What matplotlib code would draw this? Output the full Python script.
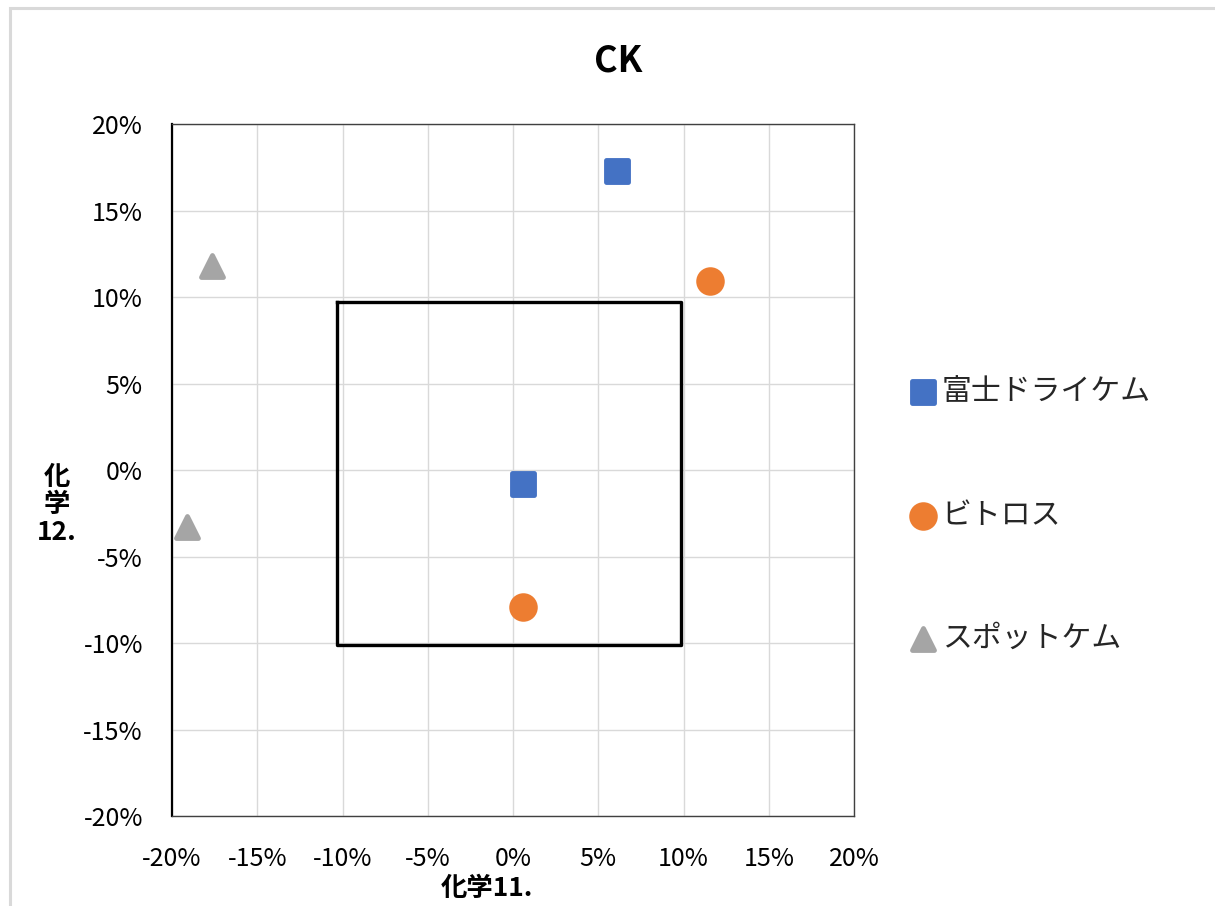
import matplotlib
matplotlib.use("Agg")
import matplotlib.pyplot as plt
from matplotlib.markers import MarkerStyle
from matplotlib.patches import Rectangle
from matplotlib.ticker import PercentFormatter, MultipleLocator

plt.rcParams['font.family'] = ['Noto Sans CJK JP', 'DejaVu Sans']
plt.rcParams['axes.unicode_minus'] = False

# data (percent)
series_names = ["富士ドライケム", "ビトロス", "スポットケム"]
fuji_x = [6.1, 0.6]
fuji_y = [17.3, -0.8]
vitros_x = [11.55, 0.6]
vitros_y = [10.9, -7.9]
spot_x = [-17.65, -19.1]
spot_y = [11.8, -3.3]

# target box
box_x = [-10.3, 9.85, 9.85, -10.3, -10.3]
box_y = [9.7, 9.7, -10.1, -10.1, 9.7]

colors = ['#4472C4', '#ED7D31', '#A5A5A5']

fig = plt.figure(figsize=(12.15, 9.06), dpi=100)
ax = fig.add_axes([0.1416, 0.0993, 0.5613, 0.7638])

# light grey chart border
fig.patches.append(Rectangle((10 / 1215, -0.1), 1.2, 1 - 8 / 906 + 0.1,
                             transform=fig.transFigure, fill=False,
                             edgecolor='#d9d9d9', linewidth=2.2))

ax.plot(box_x, box_y, color='black', linewidth=2.4, zorder=2)

sets = [(fuji_x, fuji_y, 's', 235), (vitros_x, vitros_y, 'o', 290), (spot_x, spot_y, '^', 250)]
for (xs, ys, m, sz), name, c in zip(sets, series_names, colors):
    ax.scatter(xs, ys, marker=MarkerStyle(m, joinstyle='round'), s=sz, color=c,
               edgecolors=c, linewidths=3.5, label=name, zorder=3)

ax.set_xlim(-20, 20)
ax.set_ylim(-20, 20)
ax.xaxis.set_major_locator(MultipleLocator(5))
ax.yaxis.set_major_locator(MultipleLocator(5))
ax.xaxis.set_major_formatter(PercentFormatter(100, decimals=0))
ax.yaxis.set_major_formatter(PercentFormatter(100, decimals=0))
ax.grid(True, color='#d9d9d9', linewidth=1)
ax.set_axisbelow(True)
ax.tick_params(length=0, labelsize=18, colors='black')
ax.tick_params(axis='y', pad=21)
ax.tick_params(axis='x', pad=21.5)
for s in ax.spines.values():
    s.set_color('#404040')
    s.set_linewidth(1)
ax.spines['left'].set_color('black')
ax.spines['left'].set_linewidth(1.6)

fig.text(0.509, 1 - 61 / 906, "CK", ha='center', va='center', fontsize=26, fontweight='bold')
fig.text(487 / 1215, 1 - 888 / 906, "化学11.", ha='center', va='center', fontsize=19, fontweight='bold')
fig.text(57 / 1215, 1 - 505 / 906, "化\n学\n12.", ha='center', va='center', fontsize=19,
         fontweight='bold', linespacing=1.02)

leg = ax.legend(loc='center left', bbox_to_anchor=(1.063, 0.435), frameon=False,
                fontsize=21.5, labelspacing=3.1, handlelength=0.75, handletextpad=0.25,
                borderpad=0)
for t in leg.get_texts():
    t.set_color('#262626')

fig.savefig("out.png", dpi=100)
